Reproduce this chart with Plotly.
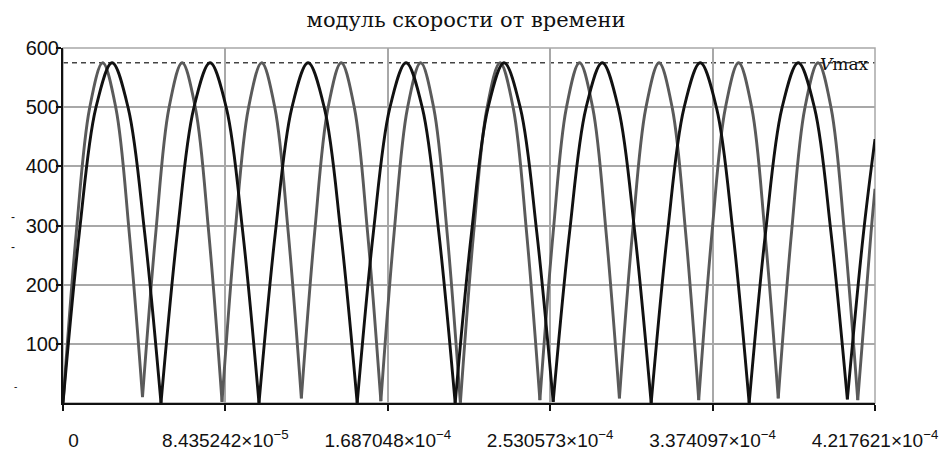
import plotly.graph_objects as go

# ---------------- data ----------------
TITLE = "модуль скорости от времени"
V_MAX = 575

x_tick_vals = [0, 8.435242e-5, 1.687048e-4, 2.530573e-4, 3.374097e-4, 4.217621e-4]
x_tick_text = ["\u00a0\u00a0\u00a0\u00a00", "8.435242×10<sup>−5</sup>", "1.687048×10<sup>−4</sup>",
               "2.530573×10<sup>−4</sup>", "3.374097×10<sup>−4</sup>",
               "4.217621×10<sup>−4</sup>"]
y_tick_vals = [100, 200, 300, 400, 500, 600]

# gray curve: time (µs) and speed
gray_t_us = [0, 6.9, 13.8, 20.6, 27.5, 34.4,
             41.3, 48.2, 55.0, 61.9, 68.8, 75.7,
             82.6, 89.4, 96.3, 103.2, 110.1, 117.0,
             123.8, 130.7, 137.6, 144.5, 151.4, 158.2,
             165.1, 172.0, 178.9, 185.8, 192.6, 199.5,
             206.4, 213.3, 220.2, 227.0, 233.9, 240.8,
             247.7, 254.6, 261.4, 268.3, 275.2, 282.1,
             289.0, 295.8, 302.7, 309.6, 316.5, 323.4,
             330.2, 337.1, 344.0, 350.9, 357.8, 364.6,
             371.5, 378.4, 385.3, 392.2, 399.0, 405.9,
             412.8, 419.7, 421.76]
gray_v = [0, 288, 498, 575, 498, 288,
          10, 288, 498, 575, 498, 288,
          2, 288, 498, 575, 498, 288,
          8, 288, 498, 575, 498, 288,
          3, 288, 498, 575, 498, 288,
          0, 288, 498, 575, 498, 288,
          5, 288, 498, 575, 498, 288,
          8, 288, 498, 575, 498, 288,
          5, 288, 498, 575, 498, 288,
          8, 288, 498, 575, 498, 288,
          5, 288, 362]

# black curve: time (µs) and speed
black_t_us = [0, 8.5, 17.0, 25.5, 33.9, 42.4,
              50.9, 59.4, 67.9, 76.4, 84.9, 93.4,
              101.8, 110.3, 118.8, 127.3, 135.8, 144.3,
              152.8, 161.2, 169.7, 178.2, 186.7, 195.2,
              203.7, 212.2, 220.7, 229.1, 237.6, 246.1,
              254.6, 263.1, 271.6, 280.1, 288.5, 297.0,
              305.5, 314.0, 322.5, 331.0, 339.5, 348.0,
              356.4, 364.9, 373.4, 381.9, 390.4, 398.9,
              407.4, 415.8, 421.76]
black_v = [0, 288, 498, 575, 498, 288,
           0, 288, 498, 575, 498, 288,
           0, 288, 498, 575, 498, 288,
           0, 288, 498, 575, 498, 288,
           0, 288, 498, 575, 498, 288,
           2, 288, 498, 575, 498, 288,
           0, 288, 498, 575, 498, 288,
           0, 288, 498, 575, 498, 288,
           6, 288, 446]


def split_at_minima(t_us, v):
    """Break the polyline at each local minimum so each lobe is its own spline."""
    xs, ys = [], []
    n = len(v)
    for i in range(n):
        t = t_us[i] * 1e-6
        xs.append(t)
        ys.append(v[i])
        if 0 < i < n - 1 and v[i] < v[i - 1] and v[i] < v[i + 1]:
            xs += [None, t]
            ys += [None, v[i]]
    return xs, ys


gx, gy = split_at_minima(gray_t_us, gray_v)
bx, by = split_at_minima(black_t_us, black_v)

fig = go.Figure()
fig.add_trace(go.Scatter(x=gx, y=gy, mode="lines", connectgaps=False,
                         line=dict(color="#5a5a5a", width=2.9, shape="spline"),
                         hoverinfo="skip", showlegend=False))
fig.add_trace(go.Scatter(x=bx, y=by, mode="lines", connectgaps=False,
                         line=dict(color="#111111", width=2.9, shape="spline"),
                         hoverinfo="skip", showlegend=False))

# Vmax dashed line
fig.add_shape(type="line", xref="paper", yref="y", x0=0, x1=1, y0=V_MAX, y1=V_MAX,
              line=dict(color="#444444", width=1.5, dash="5px,4px"), layer="below")
# gray frame (top/right)
fig.add_shape(type="rect", xref="paper", yref="paper", x0=0, x1=1, y0=0, y1=1,
              line=dict(color="#a8a8a8", width=1.5), layer="below")

# page body has an 8px margin, so the figure is 8px smaller and margins shifted
OFF = 8
W, H = 952 - OFF, 450 - OFF
L, R, T, B = 63 - OFF, 77, 48 - OFF, 47
pw, ph = W - L - R, H - T - B


def px(xp):
    return (xp - OFF - L) / pw


def py(yp):
    return (H - B - (yp - OFF)) / ph


annotations = [
    dict(text="<i>V</i>max", x=px(871), y=py(64), xref="paper", yref="paper",
         xanchor="right", yanchor="middle", showarrow=False,
         font=dict(family="DejaVu Serif", size=17, color="#111")),
    dict(text="-", x=px(13), y=py(217), xref="paper", yref="paper",
         xanchor="center", yanchor="middle", showarrow=False,
         font=dict(family="Liberation Sans", size=12, color="#111")),
    dict(text="-", x=px(13), y=py(247), xref="paper", yref="paper",
         xanchor="center", yanchor="middle", showarrow=False,
         font=dict(family="Liberation Sans", size=12, color="#111")),
    dict(text="-", x=px(15), y=py(386), xref="paper", yref="paper",
         xanchor="center", yanchor="middle", showarrow=False,
         font=dict(family="Liberation Sans", size=10, color="#111")),
]

fig.update_layout(
    width=W, height=H,
    margin=dict(l=L, r=R, t=T, b=B, pad=0),
    paper_bgcolor="white", plot_bgcolor="white",
    title=dict(text=TITLE, x=px(466) * pw / W + L / W, xanchor="center",
               y=1 - (20 - OFF) / H, yanchor="middle", xref="container", yref="container",
               font=dict(family="DejaVu Serif", size=21, color="#111")),
    annotations=annotations,
    showlegend=False,
)
fig.update_xaxes(
    range=[0, 4.217621e-4], tickmode="array", tickvals=x_tick_vals, ticktext=x_tick_text,
    showgrid=True, gridcolor="#a8a8a8", gridwidth=1.5, zeroline=False,
    showline=True, linecolor="#111", linewidth=2,
    ticks="outside", ticklen=6, tickwidth=1.5, tickcolor="#111",
    ticklabelstandoff=13, automargin=False,
    tickfont=dict(family="Liberation Sans", size=19, color="#111"),
)
fig.update_yaxes(
    range=[0, 600], tickmode="array", tickvals=y_tick_vals,
    showgrid=True, gridcolor="#a8a8a8", gridwidth=1.5, zeroline=False,
    showline=True, linecolor="#111", linewidth=2,
    ticks="outside", ticklen=5, tickwidth=1.5, tickcolor="#111",
    ticklabelstandoff=-7, automargin=False,
    tickfont=dict(family="Liberation Sans", size=20, color="#111"),
)

fig.write_html("out.html")
